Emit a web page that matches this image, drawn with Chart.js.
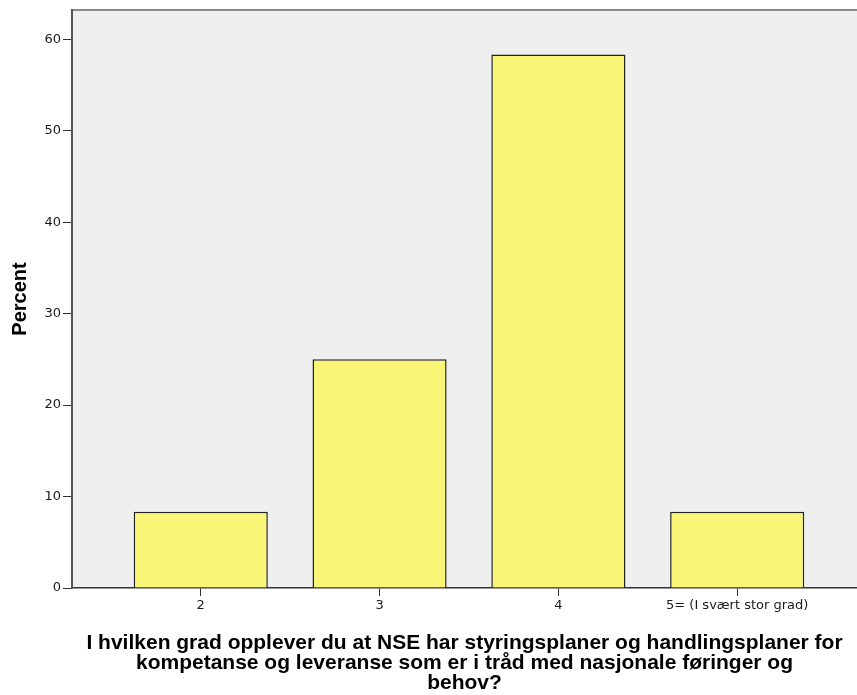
<!DOCTYPE html>
<html lang="no">
<head>
    <meta charset="UTF-8">
    <title>NSE styringsplaner</title>
    <script src="https://cdn.jsdelivr.net/npm/chart.js"></script>
    <style>
        html, body { margin: 0; padding: 0; background: #fff; }
        #wrap { width: 857px; height: 695px; }
    </style>
</head>
<body>
    <div id="wrap"><canvas id="chart"></canvas></div>
    <script>
        // answer categories (x position) and their labels
        const categories = [2, 3, 4, 5];
        const categoryLabels = ['2', '3', '4', '5= (I svært stor grad)'];
        const percentValues = [8.33, 25.0, 58.33, 8.33];
        const yTicks = [0, 10, 20, 30, 40, 50, 60];

        const xTitle = [
            'I hvilken grad opplever du at NSE har styringsplaner og handlingsplaner for',
            'kompetanse og leveranse som er i tråd med nasjonale føringer og',
            'behov?'
        ];

        // grey plot background + top frame line
        const plotBg = {
            id: 'plotBg',
            beforeDraw(chart) {
                const a = chart.chartArea, ctx = chart.ctx;
                ctx.save();
                ctx.fillStyle = '#efefef';
                ctx.fillRect(a.left, a.top, a.right - a.left, a.bottom - a.top);
                ctx.strokeStyle = '#8a8a8a';
                ctx.lineWidth = 2;
                ctx.beginPath();
                ctx.moveTo(a.left, a.top);
                ctx.lineTo(a.right, a.top);
                ctx.stroke();
                ctx.restore();
            }
        };

        new Chart(document.getElementById('chart'), {
            type: 'bar',
            data: {
                datasets: [{
                    data: categories.map((c, i) => ({ x: c, y: percentValues[i] })),
                    backgroundColor: '#f9f577',
                    borderColor: '#222',
                    borderWidth: 1.5,
                    barPercentage: 0.75,
                    categoryPercentage: 1.0
                }]
            },
            options: {
                responsive: true,
                maintainAspectRatio: false,
                animation: false,
                layout: { padding: { top: 10, right: 0, left: 0, bottom: 2 } },
                plugins: {
                    legend: { display: false },
                    tooltip: { enabled: false }
                },
                scales: {
                    x: {
                        type: 'linear',
                        min: 1.28,
                        max: 5.67,
                        offset: false,
                        afterBuildTicks: axis => { axis.ticks = categories.map(v => ({ value: v })); },
                        afterFit: scale => { scale.height = 105; },
                        grid: {
                            offset: false,
                            drawOnChartArea: false,
                            drawTicks: true,
                            tickLength: 8,
                            tickColor: '#333'
                        },
                        border: { color: '#333', width: 1.5 },
                        ticks: {
                            color: '#1a1a1a',
                            font: { family: 'DejaVu Sans', size: 13 },
                            padding: 2,
                            maxRotation: 0,
                            autoSkip: false,
                            callback: v => categoryLabels[categories.indexOf(v)]
                        },
                        title: {
                            display: true,
                            text: xTitle,
                            color: '#000',
                            font: { family: 'Liberation Sans', size: 21, weight: 'bold', lineHeight: 0.95 },
                            padding: { top: 13, bottom: 0 }
                        }
                    },
                    y: {
                        min: 0,
                        max: 63.2,
                        afterBuildTicks: axis => { axis.ticks = yTicks.map(v => ({ value: v })); },
                        afterFit: scale => { scale.width = 72; },
                        grid: {
                            drawOnChartArea: false,
                            drawTicks: true,
                            tickLength: 9,
                            tickColor: '#333'
                        },
                        border: { color: '#555', width: 2 },
                        ticks: {
                            color: '#1a1a1a',
                            font: { family: 'DejaVu Sans', size: 13 },
                            padding: 2
                        },
                        title: {
                            display: true,
                            text: 'Percent',
                            color: '#000',
                            font: { family: 'Liberation Sans', size: 20, weight: 'bold' },
                            padding: { top: 8, bottom: 0 }
                        }
                    }
                }
            },
            plugins: [plotBg]
        });
    </script>
</body>
</html>
